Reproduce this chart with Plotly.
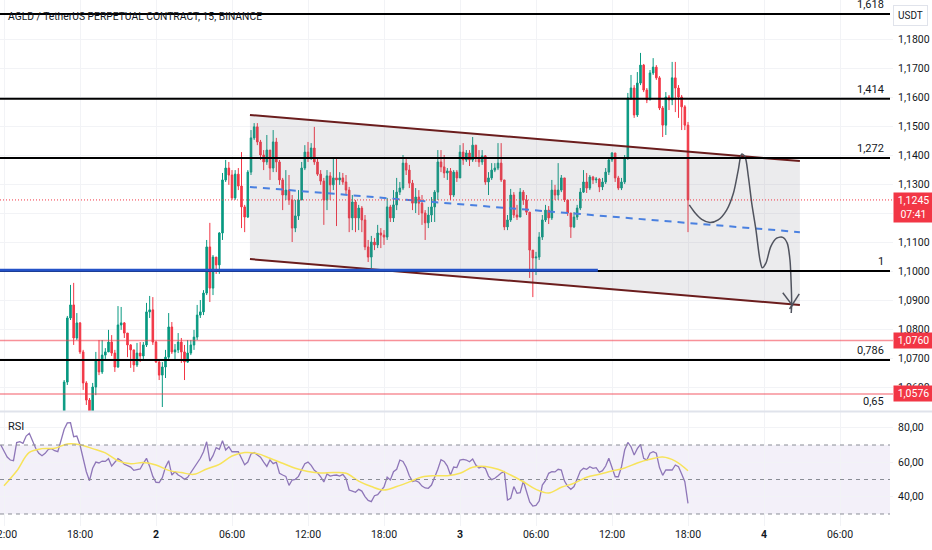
import plotly.graph_objects as go
import pandas as pd

# AGLD/USDT perpetual, 15 min bars, 2025-04-01 16:45 -> 2025-04-03 18:00
first_bar = "2025-04-01 16:45"
first_open = 1.0486
close_prices = [
    1.0617, 1.0838, 1.0883, 1.0769, 1.0821, 1.0721, 1.0614, 1.0555, 1.0514, 1.0600,
    1.0693, 1.0652, 1.0710, 1.0721, 1.0755, 1.0717, 1.0669, 1.0814, 1.0821, 1.0786,
    1.0745, 1.0728, 1.0676, 1.0717, 1.0707, 1.0745, 1.0859, 1.0866, 1.0755, 1.0686,
    1.0641, 1.0669, 1.0703, 1.0807, 1.0721, 1.0728, 1.0755, 1.0721, 1.0686, 1.0717,
    1.0745, 1.0772, 1.0848, 1.0859, 1.0924, 1.1083, 1.0941, 1.1048, 1.1021, 1.1131,
    1.1314, 1.1355, 1.1331, 1.1252, 1.1334, 1.1293, 1.1221, 1.1186, 1.1341, 1.1459,
    1.1497, 1.1445, 1.1400, 1.1376, 1.1417, 1.1355, 1.1445, 1.1376, 1.1314, 1.1262,
    1.1279, 1.1245, 1.1148, 1.1190, 1.1245, 1.1355, 1.1410, 1.1390, 1.1424, 1.1376,
    1.1334, 1.1310, 1.1245, 1.1328, 1.1297, 1.1321, 1.1314, 1.1321, 1.1307, 1.1279,
    1.1183, 1.1238, 1.1183, 1.1217, 1.1176, 1.1083, 1.1048, 1.1100, 1.1090, 1.1131,
    1.1124, 1.1117, 1.1221, 1.1183, 1.1228, 1.1272, 1.1286, 1.1372, 1.1348, 1.1303,
    1.1234, 1.1255, 1.1234, 1.1200, 1.1166, 1.1193, 1.1221, 1.1272, 1.1376, 1.1359,
    1.1338, 1.1345, 1.1262, 1.1341, 1.1321, 1.1410, 1.1383, 1.1407, 1.1383, 1.1434,
    1.1390, 1.1376, 1.1397, 1.1307, 1.1321, 1.1348, 1.1355, 1.1372, 1.1314, 1.1152,
    1.1176, 1.1262, 1.1193, 1.1186, 1.1272, 1.1245, 1.1203, 1.1072, 1.1045, 1.1048,
    1.1117, 1.1176, 1.1210, 1.1183, 1.1279, 1.1262, 1.1279, 1.1321, 1.1245, 1.1200,
    1.1152, 1.1186, 1.1217, 1.1272, 1.1307, 1.1286, 1.1324, 1.1314, 1.1317, 1.1290,
    1.1307, 1.1341, 1.1383, 1.1407, 1.1321, 1.1286, 1.1307, 1.1390, 1.1597, 1.1631,
    1.1538, 1.1648, 1.1710, 1.1624, 1.1590, 1.1683, 1.1703, 1.1666, 1.1562, 1.1503,
    1.1600, 1.1590, 1.1666, 1.1631, 1.1600, 1.1566, 1.1503, 1.1245,
]
high_prices = [
    1.0624, 1.0845, 1.0952, 1.0959, 1.0855, 1.0824, 1.0728, 1.0620, 1.0562, 1.0614,
    1.0721, 1.0762, 1.0762, 1.0734, 1.0797, 1.0779, 1.0728, 1.0879, 1.0876, 1.0824,
    1.0786, 1.0748, 1.0728, 1.0752, 1.0755, 1.0755, 1.0890, 1.0914, 1.0910, 1.0759,
    1.0690, 1.0686, 1.0728, 1.0855, 1.0824, 1.0748, 1.0786, 1.0769, 1.0745, 1.0762,
    1.0762, 1.0797, 1.0883, 1.0900, 1.0934, 1.1107, 1.1166, 1.1055, 1.1048, 1.1134,
    1.1338, 1.1383, 1.1376, 1.1348, 1.1348, 1.1355, 1.1410, 1.1228, 1.1348, 1.1486,
    1.1510, 1.1510, 1.1452, 1.1417, 1.1469, 1.1417, 1.1486, 1.1459, 1.1383, 1.1321,
    1.1348, 1.1331, 1.1262, 1.1245, 1.1279, 1.1376, 1.1434, 1.1445, 1.1441, 1.1497,
    1.1390, 1.1348, 1.1321, 1.1348, 1.1341, 1.1393, 1.1393, 1.1341, 1.1338, 1.1331,
    1.1290, 1.1262, 1.1245, 1.1228, 1.1224, 1.1193, 1.1107, 1.1121, 1.1114, 1.1159,
    1.1148, 1.1141, 1.1252, 1.1228, 1.1279, 1.1321, 1.1307, 1.1400, 1.1390, 1.1366,
    1.1314, 1.1286, 1.1279, 1.1262, 1.1210, 1.1221, 1.1255, 1.1279, 1.1417, 1.1417,
    1.1400, 1.1355, 1.1355, 1.1348, 1.1348, 1.1434, 1.1441, 1.1417, 1.1417, 1.1462,
    1.1434, 1.1417, 1.1417, 1.1400, 1.1341, 1.1372, 1.1372, 1.1441, 1.1441, 1.1314,
    1.1193, 1.1283, 1.1272, 1.1228, 1.1286, 1.1279, 1.1262, 1.1203, 1.1072, 1.1066,
    1.1134, 1.1193, 1.1228, 1.1224, 1.1314, 1.1297, 1.1372, 1.1331, 1.1321, 1.1245,
    1.1200, 1.1203, 1.1228, 1.1286, 1.1348, 1.1338, 1.1331, 1.1328, 1.1324, 1.1321,
    1.1321, 1.1355, 1.1393, 1.1410, 1.1407, 1.1328, 1.1321, 1.1400, 1.1614, 1.1676,
    1.1641, 1.1686, 1.1752, 1.1714, 1.1631, 1.1693, 1.1734, 1.1710, 1.1672, 1.1569,
    1.1617, 1.1607, 1.1721, 1.1721, 1.1641, 1.1607, 1.1572, 1.1514,
]
low_prices = [
    1.0469, 1.0607, 1.0831, 1.0745, 1.0762, 1.0714, 1.0590, 1.0538, 1.0479, 1.0486,
    1.0572, 1.0641, 1.0645, 1.0693, 1.0721, 1.0707, 1.0652, 1.0666, 1.0797, 1.0769,
    1.0703, 1.0666, 1.0652, 1.0669, 1.0686, 1.0693, 1.0738, 1.0838, 1.0745, 1.0683,
    1.0624, 1.0531, 1.0631, 1.0693, 1.0714, 1.0693, 1.0717, 1.0683, 1.0624, 1.0683,
    1.0710, 1.0728, 1.0762, 1.0838, 1.0848, 1.0917, 1.0893, 1.0917, 1.0990, 1.0990,
    1.1107, 1.1307, 1.1297, 1.1245, 1.1245, 1.1279, 1.1148, 1.1134, 1.1183, 1.1331,
    1.1452, 1.1434, 1.1383, 1.1348, 1.1366, 1.1314, 1.1341, 1.1341, 1.1297, 1.1210,
    1.1245, 1.1228, 1.1100, 1.1134, 1.1176, 1.1245, 1.1348, 1.1376, 1.1383, 1.1366,
    1.1328, 1.1297, 1.1159, 1.1210, 1.1245, 1.1279, 1.1155, 1.1297, 1.1297, 1.1262,
    1.1134, 1.1141, 1.1134, 1.1141, 1.1134, 1.1072, 1.1031, 1.1010, 1.1072, 1.1079,
    1.1079, 1.1090, 1.1107, 1.1169, 1.1169, 1.1210, 1.1262, 1.1279, 1.1331, 1.1286,
    1.1210, 1.1200, 1.1193, 1.1159, 1.1107, 1.1148, 1.1169, 1.1169, 1.1245, 1.1341,
    1.1321, 1.1314, 1.1245, 1.1255, 1.1307, 1.1321, 1.1366, 1.1376, 1.1362, 1.1376,
    1.1376, 1.1359, 1.1366, 1.1297, 1.1262, 1.1314, 1.1341, 1.1348, 1.1307, 1.1141,
    1.1141, 1.1169, 1.1183, 1.1176, 1.1186, 1.1228, 1.1193, 1.0976, 1.0910, 1.0986,
    1.1038, 1.1107, 1.1169, 1.1162, 1.1176, 1.1245, 1.1245, 1.1272, 1.1238, 1.1190,
    1.1114, 1.1148, 1.1176, 1.1210, 1.1269, 1.1269, 1.1279, 1.1300, 1.1303, 1.1272,
    1.1279, 1.1300, 1.1331, 1.1376, 1.1307, 1.1279, 1.1279, 1.1300, 1.1383, 1.1590,
    1.1528, 1.1531, 1.1641, 1.1617, 1.1579, 1.1590, 1.1676, 1.1659, 1.1555, 1.1462,
    1.1469, 1.1555, 1.1572, 1.1548, 1.1528, 1.1486, 1.1486, 1.1134,
]

# RSI(14), one value per bar from 11:45 on day 1
rsi_start = "2025-04-01 11:45"
rsi_values = [
    70.0, 66.3, 63.0, 61.3, 60.9, 71.4, 71.9, 71.0, 75.2, 76.8,
    71.9, 68.1, 65.2, 63.8, 65.2, 67.5, 67.9, 66.7, 66.1, 71.9,
    79.1, 82.8, 82.9, 74.8, 75.2, 70.0, 61.7, 54.5, 49.3, 56.5,
    60.1, 59.6, 60.7, 60.5, 62.1, 57.8, 60.0, 62.1, 60.9, 58.8,
    58.0, 57.2, 55.3, 55.7, 56.1, 59.4, 62.3, 57.6, 51.8, 48.4,
    48.2, 51.1, 57.2, 60.9, 52.6, 54.5, 52.6, 51.6, 50.1, 51.3,
    54.0, 56.7, 59.4, 62.3, 66.1, 71.9, 60.7, 63.8, 68.5, 67.5,
    72.5, 67.1, 69.0, 66.1, 66.1, 66.1, 62.3, 58.6, 60.1, 64.8,
    65.6, 64.0, 62.9, 60.1, 57.6, 61.3, 59.2, 60.1, 53.6, 52.6,
    51.8, 46.6, 49.7, 50.1, 51.8, 55.7, 59.2, 60.1, 58.2, 55.3,
    54.0, 51.6, 48.6, 53.2, 52.0, 52.4, 52.6, 52.0, 53.0, 50.5,
    43.9, 43.3, 42.6, 44.3, 43.3, 40.1, 37.9, 37.2, 40.6, 41.2,
    43.7, 45.7, 51.3, 49.7, 54.5, 55.9, 61.3, 60.5, 57.1, 52.2,
    48.9, 49.3, 48.4, 46.2, 45.1, 44.9, 46.8, 51.3, 55.9, 61.5,
    60.5, 57.8, 52.6, 57.2, 56.9, 61.3, 61.7, 61.3, 60.3, 61.9,
    58.4, 56.7, 57.4, 56.5, 52.0, 49.9, 50.7, 52.2, 53.8, 54.5,
    38.1, 39.1, 45.9, 42.0, 42.4, 49.1, 43.3, 37.0, 34.6, 35.0,
    37.5, 46.8, 49.3, 53.6, 54.5, 54.4, 55.9, 55.5, 49.1, 46.0,
    44.3, 45.9, 50.3, 54.9, 56.5, 55.9, 57.4, 56.5, 56.9, 54.2,
    55.1, 57.8, 62.3, 56.5, 51.6, 51.6, 57.4, 67.1, 71.5, 69.0,
    64.2, 67.9, 70.4, 62.3, 61.3, 65.2, 66.1, 65.2, 56.9, 52.4,
    55.5, 55.5, 55.5, 58.4, 57.4, 53.2, 48.7, 36.2,
]
# RSI moving average, read hourly from 12:00 on day 1
rsi_ma_start = "2025-04-01 12:00"
rsi_ma_values = [
    46.4, 54.9, 65.7, 67.9, 68.1, 70.6, 70.2, 67.9, 65.4, 60.9,
    59.2, 59.8, 58.4, 55.3, 54.0, 53.0, 56.1, 58.8, 63.6, 65.6,
    65.0, 62.3, 59.4, 56.5, 54.7, 53.8, 54.0, 53.6, 49.1, 45.9,
    43.9, 45.9, 48.6, 51.5, 52.2, 52.2, 53.6, 57.1, 57.6, 55.9,
    52.6, 48.7, 44.3, 42.2, 45.5, 47.8, 51.3, 53.0, 54.9, 56.7,
    59.6, 61.7, 63.0, 60.7, 55.1,
]

# fib extension drawn from the chart
fib_zero = 0.95663
fib_one = 1.1000
fib_levels = [1.618, 1.414, 1.272, 1, 0.786, 0.65]
fib_labels = ["1,618", "1,414", "1,272", "1", "0,786", "0,65"]

alert_prices = [1.0760, 1.0576]
alert_labels = ["1,0760", "1,0576"]
last_price = 1.1245
last_label = "1,1245<br>07:41"

support_price = 1.1003
support_end = "2025-04-03 10:53"

# descending channel
channel_times = ["2025-04-02 07:25", "2025-04-04 02:50"]
channel_upper = [1.1538, 1.1379]
channel_lower = [1.1041, 1.0883]
channel_mid = [1.1290, 1.1134]

# hand drawn projection path
path_times = [
    "2025-04-03 18:06", "2025-04-03 18:33", "2025-04-03 19:05", "2025-04-03 19:44",
    "2025-04-03 20:23", "2025-04-03 21:03", "2025-04-03 21:35", "2025-04-03 21:58",
    "2025-04-03 22:14", "2025-04-03 22:30", "2025-04-03 22:46", "2025-04-03 23:02",
    "2025-04-03 23:22", "2025-04-03 23:41", "2025-04-03 23:52", "2025-04-04 00:09",
    "2025-04-04 00:32", "2025-04-04 01:00", "2025-04-04 01:29", "2025-04-04 01:50",
    "2025-04-04 02:03", "2025-04-04 02:08", "2025-04-04 02:11", "2025-04-04 02:09",
]
path_prices = [
    1.1228, 1.1201, 1.1178, 1.1167, 1.1176, 1.1210, 1.1268, 1.1348,
    1.1403, 1.1394, 1.1325, 1.1233, 1.1141, 1.1038, 1.1011, 1.1027,
    1.1084, 1.1113, 1.1116, 1.1096, 1.1038, 1.0969, 1.0883, 1.0855,
]
arrow_times = ["2025-04-04 01:29", "2025-04-04 02:17", None, "2025-04-04 02:47", "2025-04-04 02:01"]
arrow_prices = [1.0925, 1.0879, None, 1.0921, 1.0869]

x_range = ["2025-04-01 11:41:03", "2025-04-04 10:11:03"]
price_range = [1.05172, 1.19345]
rsi_range = [23.04, 89.13]
tick_times = pd.date_range("2025-04-01 12:00", periods=12, freq="6h")
tick_text = ["12:00", "18:00", "<b>2</b>", "06:00", "12:00", "18:00", "<b>3</b>",
             "06:00", "12:00", "18:00", "<b>4</b>", "06:00"]
price_ticks = [1.06, 1.07, 1.08, 1.09, 1.10, 1.11, 1.12, 1.13, 1.14, 1.15, 1.16, 1.17, 1.18]
rsi_ticks = [40, 60, 80]

UP = "#089981"
DOWN = "#f23645"
TXT = "#131722"
GRID = "#f2f3f6"
FONT = "Roboto"

bar_times = pd.date_range(first_bar, periods=len(close_prices), freq="15min")
open_prices = [first_open] + close_prices[:-1]
highs = [max(h, o, c) for h, o, c in zip(high_prices, open_prices, close_prices)]
lows = [min(l, o, c) for l, o, c in zip(low_prices, open_prices, close_prices)]
rsi_times = pd.date_range(rsi_start, periods=len(rsi_values), freq="15min")
rsi_ma_times = pd.date_range(rsi_ma_start, periods=len(rsi_ma_values), freq="1h")
fib_prices = [fib_zero + k * (fib_one - fib_zero) for k in fib_levels]

fig = go.Figure()

# channel body (under candles)
fig.add_trace(go.Scatter(
    x=[channel_times[0], channel_times[1], channel_times[1], channel_times[0]],
    y=[channel_upper[0], channel_upper[1], channel_lower[1], channel_lower[0]],
    fill="toself", fillcolor="rgba(120,123,134,0.15)", line=dict(width=0),
    mode="lines", hoverinfo="skip", showlegend=False, xaxis="x", yaxis="y"))

fig.add_trace(go.Candlestick(
    x=bar_times, open=open_prices, high=highs, low=lows, close=close_prices,
    increasing=dict(line=dict(color=UP, width=1), fillcolor=UP),
    decreasing=dict(line=dict(color=DOWN, width=1), fillcolor=DOWN),
    whiskerwidth=0, showlegend=False, xaxis="x", yaxis="y"))

for ys in (channel_upper, channel_lower):
    fig.add_trace(go.Scatter(x=channel_times, y=ys, mode="lines",
                             line=dict(color="#6b1d1d", width=2),
                             hoverinfo="skip", showlegend=False, xaxis="x", yaxis="y"))
fig.add_trace(go.Scatter(x=channel_times, y=channel_mid, mode="lines",
                         line=dict(color="#4a80e0", width=2, dash="7px,6px"),
                         hoverinfo="skip", showlegend=False, xaxis="x", yaxis="y"))

fig.add_trace(go.Scatter(x=path_times, y=path_prices, mode="lines",
                         line=dict(color="#50535e", width=1.5, shape="spline", smoothing=0.8),
                         hoverinfo="skip", showlegend=False, xaxis="x", yaxis="y"))
fig.add_trace(go.Scatter(x=arrow_times, y=arrow_prices, mode="lines",
                         line=dict(color="#50535e", width=1.5),
                         hoverinfo="skip", showlegend=False, xaxis="x", yaxis="y"))

# RSI pane
fig.add_trace(go.Scatter(x=rsi_times, y=rsi_values, mode="lines",
                         line=dict(color="#8e76b8", width=1.3),
                         hoverinfo="skip", showlegend=False, xaxis="x2", yaxis="y2"))
fig.add_trace(go.Scatter(x=rsi_ma_times, y=rsi_ma_values, mode="lines",
                         line=dict(color="#f7e35a", width=1.5, shape="spline"),
                         hoverinfo="skip", showlegend=False, xaxis="x2", yaxis="y2"))

shapes = []
line_end = 890 / 893
for p in fib_prices:
    shapes.append(dict(type="line", xref="paper", yref="y", x0=0, x1=line_end, y0=p, y1=p,
                       line=dict(color="#000000", width=2)))
shapes.append(dict(type="line", xref="x", yref="y", x0=x_range[0], x1=support_end,
                   y0=support_price, y1=support_price, line=dict(color="#2452c8", width=3)))
for p in alert_prices:
    shapes.append(dict(type="line", xref="paper", yref="y", x0=0, x1=1, y0=p, y1=p,
                       line=dict(color="rgba(242,54,69,0.55)", width=1.5)))
shapes.append(dict(type="line", xref="paper", yref="y", x0=0, x1=1, y0=last_price, y1=last_price,
                   line=dict(color=DOWN, width=1, dash="1px,2px")))
shapes.append(dict(type="rect", xref="paper", yref="y2", x0=0, x1=line_end, y0=30, y1=70,
                   fillcolor="rgba(126,87,194,0.09)", line=dict(width=0), layer="below"))
for lvl in (70, 50, 30):
    shapes.append(dict(type="line", xref="paper", yref="y2", x0=0, x1=line_end, y0=lvl, y1=lvl,
                       line=dict(color="#8a8d96", width=1, dash="4px,4px")))
shapes.append(dict(type="line", xref="paper", yref="paper", x0=0, x1=932 / 893,
                   y0=0.2177, y1=0.2177, line=dict(color="#e0e3eb", width=2)))

annotations = [
    dict(xref="paper", yref="paper", x=0, y=1, xanchor="left", yanchor="top", xshift=6, yshift=-8,
         text="AGLD / TetherUS PERPETUAL CONTRACT, 15, BINANCE", showarrow=False,
         font=dict(family=FONT, size=10.3, color=TXT)),
    dict(xref="paper", yref="y2 domain", x=0, y=1, xanchor="left", yanchor="top", xshift=6, yshift=-6,
         text="RSI", showarrow=False, font=dict(family=FONT, size=11, color=TXT)),
    dict(xref="paper", yref="paper", x=1, y=1, xanchor="left", yanchor="top", xshift=0, yshift=-5,
         text="USDT", showarrow=False, bgcolor="#ffffff", bordercolor="#e0e3eb", borderwidth=1,
         borderpad=4, font=dict(family=FONT, size=10, color=TXT)),
]
for p, lab in zip(fib_prices, fib_labels):
    # a level below the visible range keeps its label on the pane's bottom edge
    annotations.append(dict(xref="paper", yref="y", x=line_end, y=max(p, price_range[0]),
                            xanchor="right", yanchor="bottom", yshift=1, xshift=-4, text=lab,
                            showarrow=False, font=dict(family=FONT, size=11, color=TXT)))
for p, lab in zip(alert_prices, alert_labels):
    annotations.append(dict(xref="paper", yref="y", x=1, y=p, xanchor="left", yanchor="middle",
                            text=lab, showarrow=False, bgcolor=DOWN, borderpad=1, width=37,
                            font=dict(family=FONT, size=10.5, color="#ffffff")))
annotations.append(dict(xref="paper", yref="y", x=1, y=last_price, xanchor="left", yanchor="top",
                        yshift=8, text=last_label, showarrow=False, bgcolor=DOWN, borderpad=1,
                        width=37, font=dict(family=FONT, size=10.5, color="#ffffff")))

axis_font = dict(family=FONT, size=10.5, color=TXT)
fig.update_layout(
    width=932, height=550,
    margin=dict(l=0, r=39, t=0, b=24, autoexpand=False),
    paper_bgcolor="#ffffff", plot_bgcolor="#ffffff",
    showlegend=False,
    xaxis=dict(domain=[0, 1], anchor="y", range=x_range, rangeslider=dict(visible=False),
               tickvals=tick_times, showticklabels=False, showgrid=True, gridcolor=GRID,
               zeroline=False, showline=False, automargin=False),
    xaxis2=dict(domain=[0, 1], anchor="y2", matches="x", range=x_range,
                tickvals=tick_times, ticktext=tick_text, showgrid=True, gridcolor=GRID,
                tickfont=axis_font, ticklabeloverflow="allow", zeroline=False, showline=False,
                automargin=False),
    yaxis=dict(domain=[0.2186, 1], anchor="x", side="right", range=price_range,
               tickvals=price_ticks, ticktext=[f"{v:.4f}".replace(".", ",") for v in price_ticks],
               tickfont=axis_font, showgrid=True, gridcolor=GRID, zeroline=False,
               ticks="outside", ticklen=2, tickcolor="#ffffff", automargin=False),
    yaxis2=dict(domain=[0, 0.2167], anchor="x2", side="right", range=rsi_range,
                tickvals=rsi_ticks, ticktext=[f"{v:.2f}".replace(".", ",") for v in rsi_ticks],
                tickfont=axis_font, showgrid=True, gridcolor=GRID, zeroline=False,
                ticks="outside", ticklen=2, tickcolor="#ffffff", automargin=False),
    shapes=shapes,
    annotations=annotations,
)

# the page's default body margin would shift the chart by 8px
fig.write_html("out.html", config={"displayModeBar": False},
               post_script="document.body.style.margin='0';")
